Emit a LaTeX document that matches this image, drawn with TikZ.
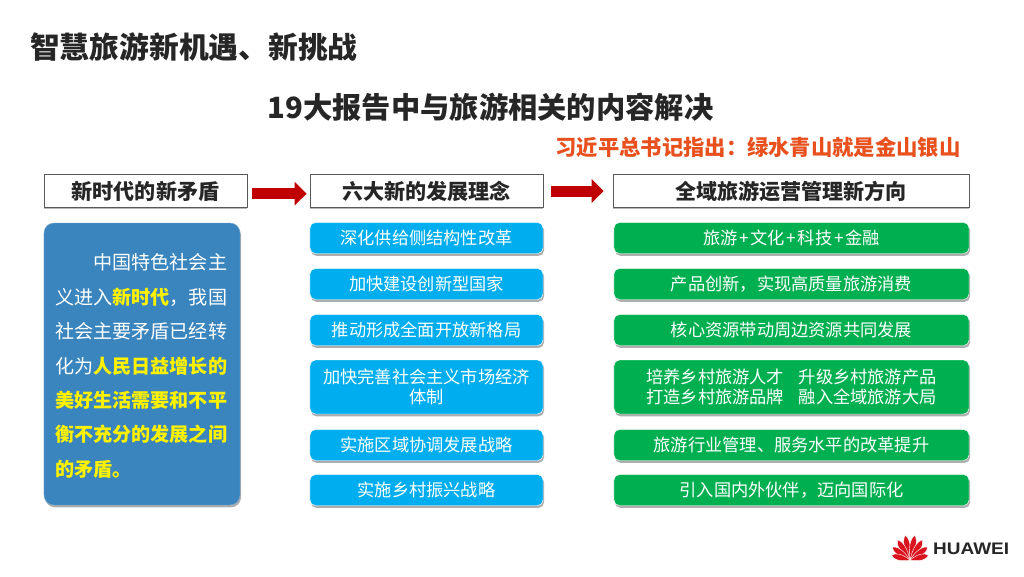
\documentclass[tikz,border=0pt]{standalone}
\usepackage{fontspec}
\setmainfont{Noto Sans CJK SC}
\newfontfamily\logofont{Liberation Sans}
\usetikzlibrary{arrows.meta,shadows}
\definecolor{leftblue}{HTML}{3A85BD}
\definecolor{skyblue}{HTML}{00AEEF}
\definecolor{leafgreen}{HTML}{00B050}
\definecolor{darkred}{HTML}{C00000}
\definecolor{quotered}{HTML}{E8501E}
\definecolor{logored}{HTML}{D9141E}
\newcommand{\plusgap}{\hspace{0.05cm}+\hspace{0.05cm}}
\tikzset{
  headbox/.style={draw=black!65,fill=white,line width=0.6pt,minimum height=1cm,inner sep=0pt,
    font=\fontsize{18}{21}\selectfont\bfseries,text=black!85,
    drop shadow={shadow xshift=0cm,shadow yshift=-0.04cm,fill=black!40,opacity=0.7}},
  itembox/.style={draw=white,line width=0.4pt,rounded corners=0.16cm,inner sep=0pt,align=center,
    text=white,font=\fontsize{14.7}{17.5}\selectfont,
    drop shadow={shadow xshift=0.03cm,shadow yshift=-0.07cm,fill=black!45,opacity=0.7}},
  blockarrow/.style={darkred,line width=0.33cm,-{Triangle[length=0.36cm,width=0.69cm]}},
  petal/.style={fill=logored,draw=white,line width=0.35pt},
}
\begin{document}
\begin{tikzpicture}[x=0.03cm,y=-0.03cm]
  \useasboundingbox[fill=white] (0,0) rectangle (1024,576);
  % titles
  \node[anchor=west,inner sep=0pt,font=\fontsize{25.4}{30}\selectfont\bfseries,text=black!85] (title) at (30,47) {智慧旅游新机遇、新挑战};
  \node[inner sep=0pt,font=\fontsize{25}{30}\selectfont\bfseries,text=black!85] (subtitle) at (490.5,107) {19大报告中与旅游相关的内容解决};
  \node[inner sep=0pt,font=\fontsize{18.2}{22}\selectfont\bfseries,text=quotered] (quote) at (758,147) {习近平总书记指出：绿水青山就是金山银山};
  % headers
  \node[headbox,minimum width=6.09cm] (headA) at (145.5,191) {新时代的新矛盾};
  \node[headbox,minimum width=6.99cm] (headB) at (426.5,191) {六大新的发展理念};
  \node[headbox,minimum width=10.68cm] (headC) at (791,191) {全域旅游运营管理新方向};
  % arrows between headers
  \draw[blockarrow,shorten <=0.15cm,shorten >=0.09cm] ([yshift=-0.08cm]headA.east) -- ([yshift=-0.08cm]headB.west);
  \draw[blockarrow,shorten <=0.24cm,shorten >=0.27cm] (headB.east) -- (headC.west);
  % left panel
  \node[itembox,fill=leftblue,draw=leftblue!70!white,minimum width=5.88cm,minimum height=8.46cm,rounded corners=0.3cm] (panel) at (142,364) {};
  \node[anchor=west,inner sep=0pt,align=left,text=white,font=\fontsize{16.3}{29.4}\selectfont] (paneltext) at (55,366) {
    \hspace*{2em}中国特色社会主\\
    义进入\textcolor{yellow}{\bfseries 新时代}，我国\\
    社会主要矛盾已经转\\
    化为\textcolor{yellow}{\bfseries 人民日益增长的}\\
    \textcolor{yellow}{\bfseries 美好生活需要和不平}\\
    \textcolor{yellow}{\bfseries 衡不充分的发展之间}\\
    \textcolor{yellow}{\bfseries 的矛盾。}};
  % middle column
  \foreach \n/\y/\h/\txt in {
    1/238/0.93/深化供给侧结构性改革,
    2/284/0.93/加快建设创新型国家,
    3/330/0.93/推动形成全面开放新格局,
    4/387/1.62/{加快完善社会主义市场经济\\体制},
    5/445/0.93/实施区域协调发展战略,
    6/490/0.93/实施乡村振兴战略}
    \node[itembox,fill=skyblue,minimum width=6.99cm,minimum height=\h cm] (mid\n) at (426.5,\y) {\txt};
  % right column
  \foreach \n/\y/\h/\txt in {
    1/238/0.93/旅游\plusgap 文化\plusgap 科技\plusgap 金融,
    2/284/0.93/产品创新，实现高质量旅游消费,
    3/330/0.93/核心资源带动周边资源共同发展,
    4/387/1.62/{培养乡村旅游人才\hspace{0.85em}升级乡村旅游产品\\打造乡村旅游品牌\hspace{0.85em}融入全域旅游大局},
    5/445/0.93/旅游行业管理、服务水平的改革提升,
    6/490/0.93/引入国内外伙伴，迈向国际化}
    \node[itembox,fill=leafgreen,minimum width=10.65cm,minimum height=\h cm] (right\n) at (791.5,\y) {\txt};
  % logo
  \foreach \a/\l in {11/25,32/24,54/22,76/19,-11/25,-32/24,-54/22,-76/19}
    \path[petal,rotate around={\a:(910,560)}] (910,560) .. controls (906,{560-0.45*\l}) and (906,{560-0.85*\l}) .. (910,{560-\l}) .. controls (914,{560-0.85*\l}) and (914,{560-0.45*\l}) .. (910,560);
  \node[anchor=west,inner sep=0pt,yscale=0.88,transform shape,font=\logofont\bfseries\fontsize{16.2}{17}\selectfont,text=black!85] (brand) at (933,549) {HUAWEI};
\end{tikzpicture}
\end{document}
